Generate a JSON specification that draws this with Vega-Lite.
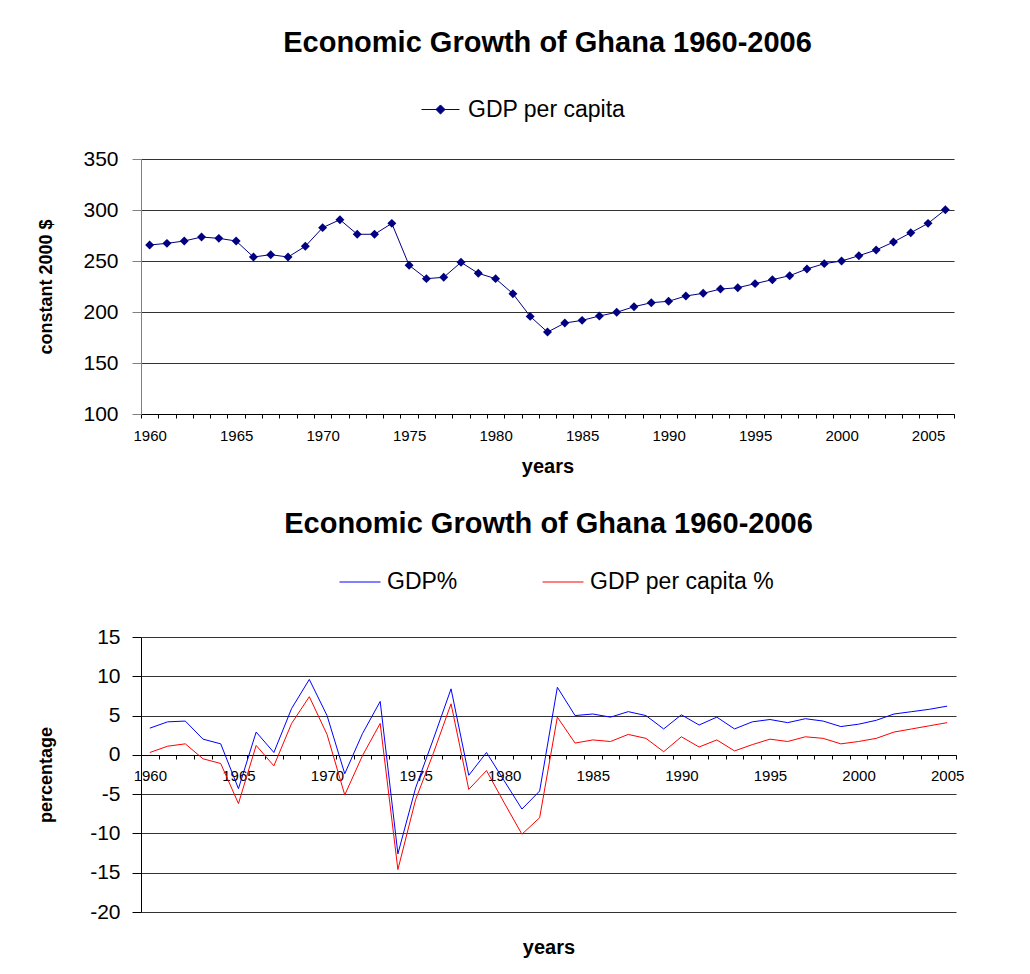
{
  "$schema": "https://vega.github.io/schema/vega-lite/v6.json",
  "background": "white",
  "padding": {"left": 36, "top": 29, "right": 10, "bottom": 5},
  "spacing": 34,
  "resolve": {"scale": {"color": "independent"}, "legend": {"color": "independent"}},
  "config": {
    "view": {"stroke": null},
    "font": "Liberation Sans",
    "axis": {"labelColor": "black", "titleColor": "black", "labelFont": "Liberation Sans", "titleFont": "Liberation Sans"},
    "legend": {"labelFont": "Liberation Sans", "labelColor": "black"}
  },
  "vconcat": [
    {
      "width": 813,
      "height": 255,
      "title": {"text": "Economic Growth of Ghana 1960-2006", "fontSize": 29, "fontWeight": "bold", "font": "Liberation Sans", "color": "black", "anchor": "middle", "frame": "group", "offset": 32},
      "data": {"values": [
        {"year": 1960, "gdp_per_capita": 265.7}, {"year": 1961, "gdp_per_capita": 267.3}, {"year": 1962, "gdp_per_capita": 269.6},
        {"year": 1963, "gdp_per_capita": 273.5}, {"year": 1964, "gdp_per_capita": 272.2}, {"year": 1965, "gdp_per_capita": 269.6},
        {"year": 1966, "gdp_per_capita": 253.9}, {"year": 1967, "gdp_per_capita": 256.2}, {"year": 1968, "gdp_per_capita": 253.9},
        {"year": 1969, "gdp_per_capita": 264.4}, {"year": 1970, "gdp_per_capita": 282.7}, {"year": 1971, "gdp_per_capita": 290.5},
        {"year": 1972, "gdp_per_capita": 276.2}, {"year": 1973, "gdp_per_capita": 276.2}, {"year": 1974, "gdp_per_capita": 286.9},
        {"year": 1975, "gdp_per_capita": 245.8}, {"year": 1976, "gdp_per_capita": 232.7}, {"year": 1977, "gdp_per_capita": 234.0},
        {"year": 1978, "gdp_per_capita": 248.7}, {"year": 1979, "gdp_per_capita": 237.9}, {"year": 1980, "gdp_per_capita": 232.7},
        {"year": 1981, "gdp_per_capita": 217.9}, {"year": 1982, "gdp_per_capita": 195.7}, {"year": 1983, "gdp_per_capita": 180.3},
        {"year": 1984, "gdp_per_capita": 189.2}, {"year": 1985, "gdp_per_capita": 191.8}, {"year": 1986, "gdp_per_capita": 196.1},
        {"year": 1987, "gdp_per_capita": 199.7}, {"year": 1988, "gdp_per_capita": 205.2}, {"year": 1989, "gdp_per_capita": 209.1},
        {"year": 1990, "gdp_per_capita": 210.5}, {"year": 1991, "gdp_per_capita": 215.7}, {"year": 1992, "gdp_per_capita": 218.3},
        {"year": 1993, "gdp_per_capita": 222.5}, {"year": 1994, "gdp_per_capita": 223.8}, {"year": 1995, "gdp_per_capita": 227.8},
        {"year": 1996, "gdp_per_capita": 231.7}, {"year": 1997, "gdp_per_capita": 235.6}, {"year": 1998, "gdp_per_capita": 242.2},
        {"year": 1999, "gdp_per_capita": 247.4}, {"year": 2000, "gdp_per_capita": 250.0}, {"year": 2001, "gdp_per_capita": 255.2},
        {"year": 2002, "gdp_per_capita": 260.8}, {"year": 2003, "gdp_per_capita": 268.6}, {"year": 2004, "gdp_per_capita": 277.7},
        {"year": 2005, "gdp_per_capita": 286.9}, {"year": 2006, "gdp_per_capita": 300.3}
      ]},
      "mark": {"type": "line", "strokeWidth": 1, "point": {"shape": "diamond", "filled": true, "size": 80}},
      "encoding": {
        "x": {
          "field": "year", "type": "quantitative",
          "scale": {"domain": [1959.5, 2006.5], "nice": false, "zero": false},
          "axis": {
            "title": "years",
            "values": [1959.5,1960.5,1961.5,1962.5,1963.5,1964.5,1965.5,1966.5,1967.5,1968.5,1969.5,1970.5,1971.5,1972.5,1973.5,1974.5,1975.5,1976.5,1977.5,1978.5,1979.5,1980.5,1981.5,1982.5,1983.5,1984.5,1985.5,1986.5,1987.5,1988.5,1989.5,1990.5,1991.5,1992.5,1993.5,1994.5,1995.5,1996.5,1997.5,1998.5,1999.5,2000.5,2001.5,2002.5,2003.5,2004.5,2005.5,2006.5],
            "labelExpr": "(datum.value + 0.5) % 5 == 0 ? '' + (datum.value + 0.5) : ''",
            "labelOffset": 8.65,
            "labelFlush": false,
            "labelOverlap": false,
            "labelFontSize": 15,
            "labelPadding": 10,
            "tickSize": 4,
            "tickColor": "black",
            "domainColor": "black",
            "grid": false,
            "titleFontSize": 20,
            "titleFontWeight": "bold",
            "titleBaseline": "top",
            "titleY": 42
          }
        },
        "y": {
          "field": "gdp_per_capita", "type": "quantitative",
          "scale": {"domain": [100, 350], "nice": false, "zero": false},
          "axis": {
            "title": "constant 2000 $",
            "values": [100, 150, 200, 250, 300, 350],
            "labelFontSize": 21,
            "labelPadding": 14,
            "tickSize": 9,
            "tickColor": "#808080",
            "domainColor": "#808080",
            "grid": true,
            "gridColor": "#333333",
            "titleFontSize": 18,
            "titleFontWeight": "bold",
            "titleX": -95,
            "titleBaseline": "middle"
          }
        },
        "color": {
          "datum": "GDP per capita",
          "type": "nominal",
          "scale": {"domain": ["GDP per capita"], "range": ["#000080"]},
          "legend": {
            "orient": "none",
            "legendX": 280,
            "legendY": -69,
            "title": null,
            "padding": 0,
            "symbolType": "M-1,0H1M0,-0.24L0.24,0L0,0.24L-0.24,0Z",
            "symbolSize": 1444,
            "symbolStrokeWidth": 1,
            "symbolStrokeColor": "#000080",
            "symbolFillColor": "#000080",
            "labelFontSize": 23,
            "labelOffset": 8,
            "labelLimit": 400,
            "encode": {"symbols": {"update": {"fill": {"value": "#000080"}, "stroke": {"value": "#000080"}}}}
          }
        }
      }
    },
    {
      "width": 815,
      "height": 275,
      "title": {"text": "Economic Growth of Ghana 1960-2006", "fontSize": 29, "fontWeight": "bold", "font": "Liberation Sans", "color": "black", "anchor": "middle", "frame": "group", "offset": 22},
      "data": {"values": [
        {"year": 1960, "series": "GDP%", "value": 3.4}, {"year": 1961, "series": "GDP%", "value": 4.2}, {"year": 1962, "series": "GDP%", "value": 4.3},
        {"year": 1963, "series": "GDP%", "value": 2.0}, {"year": 1964, "series": "GDP%", "value": 1.4}, {"year": 1965, "series": "GDP%", "value": -4.3},
        {"year": 1966, "series": "GDP%", "value": 2.9}, {"year": 1967, "series": "GDP%", "value": 0.3}, {"year": 1968, "series": "GDP%", "value": 5.9},
        {"year": 1969, "series": "GDP%", "value": 9.6}, {"year": 1970, "series": "GDP%", "value": 5.0}, {"year": 1971, "series": "GDP%", "value": -2.4},
        {"year": 1972, "series": "GDP%", "value": 2.7}, {"year": 1973, "series": "GDP%", "value": 6.8}, {"year": 1974, "series": "GDP%", "value": -12.6},
        {"year": 1975, "series": "GDP%", "value": -4.2}, {"year": 1976, "series": "GDP%", "value": 2.0}, {"year": 1977, "series": "GDP%", "value": 8.4},
        {"year": 1978, "series": "GDP%", "value": -2.6}, {"year": 1979, "series": "GDP%", "value": 0.3}, {"year": 1980, "series": "GDP%", "value": -3.3},
        {"year": 1981, "series": "GDP%", "value": -6.9}, {"year": 1982, "series": "GDP%", "value": -4.6}, {"year": 1983, "series": "GDP%", "value": 8.6},
        {"year": 1984, "series": "GDP%", "value": 5.0}, {"year": 1985, "series": "GDP%", "value": 5.2}, {"year": 1986, "series": "GDP%", "value": 4.8},
        {"year": 1987, "series": "GDP%", "value": 5.5}, {"year": 1988, "series": "GDP%", "value": 5.0}, {"year": 1989, "series": "GDP%", "value": 3.3},
        {"year": 1990, "series": "GDP%", "value": 5.1}, {"year": 1991, "series": "GDP%", "value": 3.8}, {"year": 1992, "series": "GDP%", "value": 4.8},
        {"year": 1993, "series": "GDP%", "value": 3.3}, {"year": 1994, "series": "GDP%", "value": 4.2}, {"year": 1995, "series": "GDP%", "value": 4.5},
        {"year": 1996, "series": "GDP%", "value": 4.1}, {"year": 1997, "series": "GDP%", "value": 4.6}, {"year": 1998, "series": "GDP%", "value": 4.3},
        {"year": 1999, "series": "GDP%", "value": 3.6}, {"year": 2000, "series": "GDP%", "value": 3.9}, {"year": 2001, "series": "GDP%", "value": 4.4},
        {"year": 2002, "series": "GDP%", "value": 5.2}, {"year": 2003, "series": "GDP%", "value": 5.5}, {"year": 2004, "series": "GDP%", "value": 5.8},
        {"year": 2005, "series": "GDP%", "value": 6.2},
        {"year": 1960, "series": "GDP per capita %", "value": 0.3}, {"year": 1961, "series": "GDP per capita %", "value": 1.1}, {"year": 1962, "series": "GDP per capita %", "value": 1.4},
        {"year": 1963, "series": "GDP per capita %", "value": -0.5}, {"year": 1964, "series": "GDP per capita %", "value": -1.1}, {"year": 1965, "series": "GDP per capita %", "value": -6.2},
        {"year": 1966, "series": "GDP per capita %", "value": 1.2}, {"year": 1967, "series": "GDP per capita %", "value": -1.4}, {"year": 1968, "series": "GDP per capita %", "value": 4.0},
        {"year": 1969, "series": "GDP per capita %", "value": 7.4}, {"year": 1970, "series": "GDP per capita %", "value": 2.6}, {"year": 1971, "series": "GDP per capita %", "value": -5.1},
        {"year": 1972, "series": "GDP per capita %", "value": -0.1}, {"year": 1973, "series": "GDP per capita %", "value": 4.0}, {"year": 1974, "series": "GDP per capita %", "value": -14.6},
        {"year": 1975, "series": "GDP per capita %", "value": -5.7}, {"year": 1976, "series": "GDP per capita %", "value": 0.2}, {"year": 1977, "series": "GDP per capita %", "value": 6.5},
        {"year": 1978, "series": "GDP per capita %", "value": -4.4}, {"year": 1979, "series": "GDP per capita %", "value": -2.0}, {"year": 1980, "series": "GDP per capita %", "value": -6.1},
        {"year": 1981, "series": "GDP per capita %", "value": -10.1}, {"year": 1982, "series": "GDP per capita %", "value": -8.0}, {"year": 1983, "series": "GDP per capita %", "value": 4.8},
        {"year": 1984, "series": "GDP per capita %", "value": 1.5}, {"year": 1985, "series": "GDP per capita %", "value": 1.9}, {"year": 1986, "series": "GDP per capita %", "value": 1.7},
        {"year": 1987, "series": "GDP per capita %", "value": 2.6}, {"year": 1988, "series": "GDP per capita %", "value": 2.1}, {"year": 1989, "series": "GDP per capita %", "value": 0.4},
        {"year": 1990, "series": "GDP per capita %", "value": 2.3}, {"year": 1991, "series": "GDP per capita %", "value": 1.0}, {"year": 1992, "series": "GDP per capita %", "value": 1.9},
        {"year": 1993, "series": "GDP per capita %", "value": 0.5}, {"year": 1994, "series": "GDP per capita %", "value": 1.3}, {"year": 1995, "series": "GDP per capita %", "value": 2.0},
        {"year": 1996, "series": "GDP per capita %", "value": 1.7}, {"year": 1997, "series": "GDP per capita %", "value": 2.3}, {"year": 1998, "series": "GDP per capita %", "value": 2.1},
        {"year": 1999, "series": "GDP per capita %", "value": 1.4}, {"year": 2000, "series": "GDP per capita %", "value": 1.7}, {"year": 2001, "series": "GDP per capita %", "value": 2.1},
        {"year": 2002, "series": "GDP per capita %", "value": 2.9}, {"year": 2003, "series": "GDP per capita %", "value": 3.3}, {"year": 2004, "series": "GDP per capita %", "value": 3.7},
        {"year": 2005, "series": "GDP per capita %", "value": 4.1}
      ]},
      "mark": {"type": "line", "strokeWidth": 1},
      "encoding": {
        "x": {
          "field": "year", "type": "quantitative",
          "scale": {"domain": [1959.5, 2005.5], "nice": false, "zero": false},
          "axis": {
            "title": "years",
            "offset": -157,
            "values": [1959.5,1960.5,1961.5,1962.5,1963.5,1964.5,1965.5,1966.5,1967.5,1968.5,1969.5,1970.5,1971.5,1972.5,1973.5,1974.5,1975.5,1976.5,1977.5,1978.5,1979.5,1980.5,1981.5,1982.5,1983.5,1984.5,1985.5,1986.5,1987.5,1988.5,1989.5,1990.5,1991.5,1992.5,1993.5,1994.5,1995.5,1996.5,1997.5,1998.5,1999.5,2000.5,2001.5,2002.5,2003.5,2004.5,2005.5],
            "labelExpr": "(datum.value + 0.5) % 5 == 0 ? '' + (datum.value + 0.5) : ''",
            "labelOffset": 8.86,
            "labelFlush": false,
            "labelOverlap": false,
            "labelFontSize": 15,
            "labelPadding": 9,
            "tickSize": 4,
            "tickColor": "black",
            "domainColor": "black",
            "grid": false,
            "titleFontSize": 20,
            "titleFontWeight": "bold",
            "titleBaseline": "top",
            "titleY": 182
          }
        },
        "y": {
          "field": "value", "type": "quantitative",
          "scale": {"domain": [-20, 15], "nice": false, "zero": false},
          "axis": {
            "title": "percentage",
            "values": [-20, -15, -10, -5, 0, 5, 10, 15],
            "labelExpr": "'' + datum.value",
            "labelFontSize": 21,
            "labelPadding": 12,
            "tickSize": 9,
            "tickColor": "black",
            "domainColor": "black",
            "grid": true,
            "gridColor": "#333333",
            "titleFontSize": 18,
            "titleFontWeight": "bold",
            "titleX": -95,
            "titleBaseline": "middle"
          }
        },
        "color": {
          "field": "series", "type": "nominal",
          "scale": {"domain": ["GDP%", "GDP per capita %"], "range": ["#0000FF", "#FF0000"]},
          "legend": {
            "orient": "none",
            "direction": "horizontal",
            "legendX": 198,
            "legendY": -76,
            "title": null,
            "padding": 0,
            "symbolType": "stroke",
            "symbolSize": 1681,
            "symbolStrokeWidth": 1,
            "labelFontSize": 23,
            "labelOffset": 6,
            "labelLimit": 400,
            "columnPadding": 82
          }
        }
      }
    }
  ]
}
